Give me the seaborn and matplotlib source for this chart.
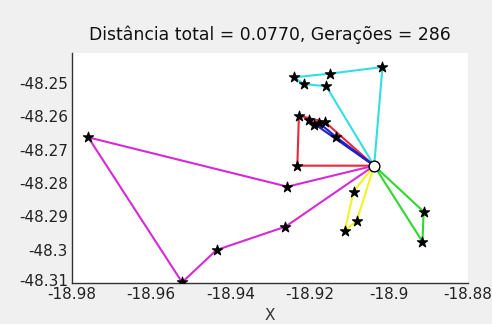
import matplotlib
matplotlib.use("Agg")
import matplotlib.pyplot as plt
import matplotlib.transforms as mtransforms
import seaborn as sns
import pandas as pd

# ---- data ----
depot_x = -18.9037
depot_y = -48.2748

cyan_x = [-18.9016, -18.9149, -18.9240, -18.9214, -18.9158]
cyan_y = [-48.2452, -48.2472, -48.2483, -48.2503, -48.2510]
red_x = [-18.9231, -18.9227, -18.9161]
red_y = [-48.2748, -48.2598, -48.2617]
blue_x = [-18.9133, -18.9176, -18.9189, -18.9202]
blue_y = [-48.2662, -48.2620, -48.2626, -48.2611]
magenta_x = [-18.9256, -18.9759, -18.9522, -18.9435, -18.9261]
magenta_y = [-48.2811, -48.2663, -48.3098, -48.3001, -48.2931]
yellow_x = [-18.9089, -18.9111, -18.9081]
yellow_y = [-48.2826, -48.2943, -48.2914]
green_x = [-18.8912, -18.8915]
green_y = [-48.2886, -48.2976]

x_ticks = [-18.98, -18.96, -18.94, -18.92, -18.90, -18.88]
x_tick_labels = ["-18.98", "-18.96", "-18.94", "-18.92", "-18.9", "-18.88"]
y_ticks = [-48.25, -48.26, -48.27, -48.28, -48.29, -48.30, -48.31]
y_tick_labels = ["-48.25", "-48.26", "-48.27", "-48.28", "-48.29", "-48.3", "-48.31"]

title = "Distância total = 0.0770, Gerações = 286"

routes = [
    ("cyan", cyan_x, cyan_y, "#33dede"),
    ("red", red_x, red_y, "#e8283a"),
    ("blue", blue_x, blue_y, "#2020c8"),
    ("magenta", magenta_x, magenta_y, "#d62ad6"),
    ("yellow", yellow_x, yellow_y, "#f2f224"),
    ("green", green_x, green_y, "#2ed82e"),
]

sns.set_style("white")
plt.rcParams["font.family"] = ["DejaVu Sans"]

fig = plt.figure(figsize=(4.92, 3.24), dpi=100)
fig.patch.set_facecolor("#f0f0f0")
ax = fig.add_axes([72 / 492, 41 / 324, 396 / 492, 230 / 324])
ax.set_facecolor("white")

for name, xs, ys, col in routes:
    df = pd.DataFrame({"x": [depot_x] + xs + [depot_x],
                       "y": [depot_y] + ys + [depot_y]})
    sns.lineplot(data=df, x="x", y="y", sort=False, estimator=None,
                 color=col, linewidth=1.5, ax=ax)

pts = pd.DataFrame({
    "x": cyan_x + red_x + blue_x + magenta_x + yellow_x + green_x,
    "y": cyan_y + red_y + blue_y + magenta_y + yellow_y + green_y,
})
sns.scatterplot(data=pts, x="x", y="y", marker="*", s=60, color="black",
                edgecolor="black", linewidth=0.8, ax=ax, zorder=5)
ax.scatter([depot_x], [depot_y], s=60, facecolor="white", edgecolor="black",
           linewidth=1.0, zorder=6)

ax.set_xlim(-18.98, -18.88)
ax.set_ylim(-48.31, -48.241)
ax.set_xticks(x_ticks)
ax.set_xticklabels(x_tick_labels)
ax.set_yticks(y_ticks)
ax.set_yticklabels(y_tick_labels)
ax.tick_params(direction="in", length=3, labelsize=11, colors="#333333",
               labelcolor="#222222")
ax.tick_params(axis="x", pad=3)
ax.tick_params(axis="y", pad=3)
# lift the lowest y label slightly, as in the reference
lowest = ax.get_yticklabels()[-1]
lowest.set_transform(lowest.get_transform() +
                     mtransforms.ScaledTranslation(0, 3 / 100, fig.dpi_scale_trans))
for s in ["top", "right"]:
    ax.spines[s].set_visible(False)
for s in ["left", "bottom"]:
    ax.spines[s].set_color("#333333")
    ax.spines[s].set_linewidth(1.0)
ax.set_xlabel("X", fontsize=11, color="#333333", labelpad=4)
ax.set_ylabel("")
ax.set_title(title, fontsize=12.4, color="#111111", pad=9)

fig.savefig("out.png", dpi=100, facecolor=fig.get_facecolor())
